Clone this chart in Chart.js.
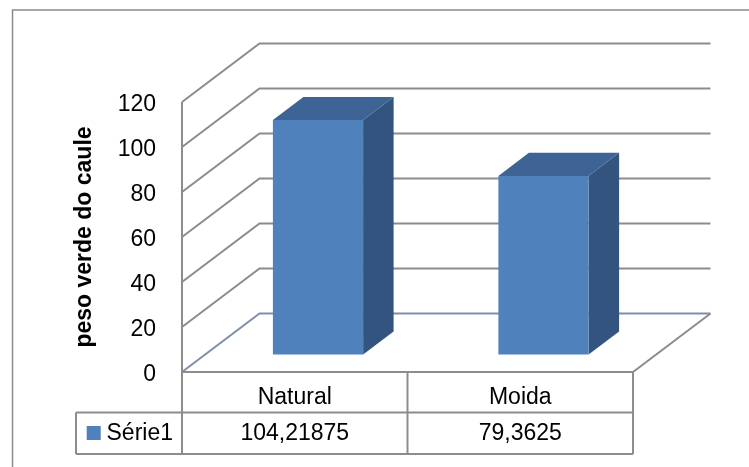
<!DOCTYPE html>
<html><head><meta charset="utf-8">
<script src="https://cdn.jsdelivr.net/npm/chart.js@4"></script>
<style>html,body{margin:0;padding:0;background:#fff}#wrap{width:749px;height:467px;position:relative}</style>
</head><body><div id="wrap"><canvas id="c" width="749" height="467"></canvas></div>
<script>
// ---- data ----
const categories = ['Natural', 'Moida'];
const seriesName = 'Série1';
const values = [104.21875, 79.3625];
const yMin = 0, yMax = 120, yStep = 20;
const axisTitle = 'peso verde do caule';

// ---- style / layout constants ----
const FONT = "'Liberation Sans', Arial, sans-serif";
const DX = 77.5, DY = -58.5;          // full depth offset of the 3D box
const D1 = 0.30, D2 = 0.6935;         // bar depth range (fraction of depth)
const GRID = '#8c8c8c', FLOOR = '#7f8fa9';
const FRONT = '#4F81BD', TOP = '#3D6494', SIDE = '#32547E';
const ROW1 = 412.5, ROW2 = 454, TABLE_LEFT = 76;

function fmt(v){ return String(v).replace('.', ','); }

function line(ctx, pts, color, w){
  ctx.beginPath();
  ctx.moveTo(pts[0][0], pts[0][1]);
  for (let i = 1; i < pts.length; i++) ctx.lineTo(pts[i][0], pts[i][1]);
  ctx.strokeStyle = color; ctx.lineWidth = w; ctx.stroke();
}
function poly(ctx, pts, fill){
  ctx.beginPath();
  ctx.moveTo(pts[0][0], pts[0][1]);
  for (let i = 1; i < pts.length; i++) ctx.lineTo(pts[i][0], pts[i][1]);
  ctx.closePath(); ctx.fillStyle = fill; ctx.fill();
}

const threeD = {
  id: 'threeD',
  beforeDraw(chart){
    const ctx = chart.ctx;
    ctx.save();
    ctx.fillStyle = '#fff'; ctx.fillRect(0, 0, chart.width, chart.height);
    // outer chart border
    line(ctx, [[12.5, chart.height], [12.5, 10], [chart.width, 10]], '#8a8a8a', 1.5);
    ctx.restore();
  },
  beforeDatasetsDraw(chart){
    const ctx = chart.ctx, ys = chart.scales.y, a = chart.chartArea;
    const L = a.left, R = a.right;
    ctx.save();
    ys.ticks.forEach(t => {
      const y = ys.getPixelForValue(t.value);
      if (t.value === yMin) return;
      line(ctx, [[L, y], [L + DX, y + DY], [R + DX, y + DY]], GRID, 2);
    });
    const y0 = ys.getPixelForValue(yMin), yT = ys.getPixelForValue(yMax);
    // floor
    line(ctx, [[L, y0], [L + DX, y0 + DY], [R + DX, y0 + DY]], FLOOR, 2);
    line(ctx, [[R + DX, y0 + DY], [R, y0], [L, y0]], GRID, 2);
    // front vertical edge of side wall
    line(ctx, [[L, yT], [L, y0]], GRID, 2);
    ctx.restore();
  },
  afterDatasetsDraw(chart){
    const ctx = chart.ctx, ys = chart.scales.y, xs = chart.scales.x, a = chart.chartArea;
    const meta = chart.getDatasetMeta(0);
    const ox = D1 * DX, oy = D1 * DY, bx = (D2 - D1) * DX, by = (D2 - D1) * DY;
    ctx.save();
    meta.data.forEach((el, i) => {
      const w = el.width;
      const x0 = el.x - w / 2 + ox, x1 = el.x + w / 2 + ox;
      const yt = ys.getPixelForValue(values[i]) + oy, yb = ys.getPixelForValue(0) + oy;
      poly(ctx, [[x1, yt], [x1 + bx, yt + by], [x1 + bx, yb + by], [x1, yb]], SIDE);
      poly(ctx, [[x0, yt], [x1, yt], [x1 + bx, yt + by], [x0 + bx, yt + by]], TOP);
      poly(ctx, [[x0, yt], [x1, yt], [x1, yb], [x0, yb]], FRONT);
    });
    // data table
    const L = a.left, R = a.right, top = a.bottom;
    const cw = (R - L) / categories.length;
    line(ctx, [[TABLE_LEFT, ROW1], [R, ROW1]], GRID, 2);
    line(ctx, [[TABLE_LEFT, ROW2], [R, ROW2]], GRID, 2);
    line(ctx, [[TABLE_LEFT, ROW1], [TABLE_LEFT, ROW2]], GRID, 2);
    for (let k = 0; k <= categories.length; k++) {
      const x = L + k * cw;
      line(ctx, [[x, top], [x, ROW2]], GRID, 2);
    }
    ctx.font = '23px ' + FONT;
    ctx.fillStyle = '#000';
    ctx.textBaseline = 'middle';
    ctx.textAlign = 'center';
    const ym = (ROW1 + ROW2) / 2 + 0.5;
    values.forEach((v, i) => {
      ctx.fillText(fmt(v), xs.getPixelForValue(i), ym);
    });
    ctx.fillStyle = FRONT;
    ctx.fillRect(86.7, 426, 14, 14);
    ctx.fillStyle = '#000';
    ctx.textAlign = 'left';
    ctx.fillText(seriesName, 106.5, ym);
    ctx.restore();
  }
};

new Chart(document.getElementById('c').getContext('2d'), {
  type: 'bar',
  data: {
    labels: categories,
    datasets: [{
      label: seriesName, data: values,
      backgroundColor: 'rgba(0,0,0,0)', borderWidth: 0,
      barPercentage: 0.4, categoryPercentage: 1
    }]
  },
  options: {
    responsive: false, animation: false, devicePixelRatio: 1,
    layout: { padding: { left: 0, right: 116, top: 102, bottom: 0 } },
    plugins: { legend: { display: false }, tooltip: { enabled: false } },
    scales: {
      x: {
        grid: { display: false, drawTicks: false }, border: { display: false },
        ticks: { font: { family: FONT, size: 23 }, color: '#000', padding: 12 },
        afterFit(s){ s.height = 95; }
      },
      y: {
        min: yMin, max: yMax,
        grid: { display: false, drawTicks: false }, border: { display: false },
        ticks: { stepSize: yStep, font: { family: FONT, size: 23 }, color: '#000', padding: 26, labelOffset: 3 },
        title: { display: true, text: axisTitle, color: '#000',
                 font: { family: FONT, size: 23, weight: 'bold' }, padding: { top: 71, bottom: 0 } },
        afterFit(s){ s.width = 182; }
      }
    }
  },
  plugins: [threeD]
});
</script>
</body></html>
